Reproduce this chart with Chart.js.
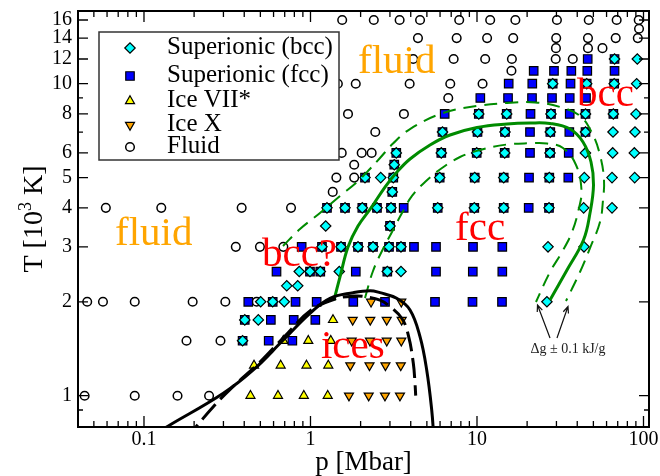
<!DOCTYPE html>
<html>
<head>
<meta charset="utf-8">
<title>Water phase diagram</title>
<script src="https://cdn.jsdelivr.net/npm/chart.js"></script>
<style>
  html, body { margin: 0; padding: 0; background: #fff; }
  #wrap { width: 660px; height: 476px; }
</style>
</head>
<body>
<div id="wrap"><canvas id="phaseChart" width="660" height="476"></canvas></div>
<script>
// points are [p in Mbar, T in 10^3 K]

// superionic bcc only
const bccOnly = [
  [0.486,1.75],[0.502,2],[0.696,2],[26.3,2],[0.720,2.25],[0.838,2.25],
  [0.856,2.5],[1.489,2.5],[3.495,2.5],[26.7,3],[43.9,3],[1.234,3.5],
  [43.7,4],[64.7,4],[2.64,5],[44.1,5],[64.7,5],[88.5,5],[44.8,6],[65.3,6],[88.1,6],
  [65.6,7],[88.9,7],[90.2,8],[91.0,10],[91.8,12]
];
// superionic fcc only
const fccOnly = [
  [0.561,1.5],[0.778,1.5],[0.578,1.75],[0.793,1.75],[1.069,1.75],
  [0.423,2],[0.813,2],[1.089,2],[1.807,2],[2.802,2],[5.595,2],[9.397,2],[14.13,2],
  [0.625,2.5],[1.871,2.5],[5.673,2.5],[9.436,2.5],[14.19,2.5],
  [0.885,3],[4.183,3],[5.673,3],[9.462,3],[14.19,3],
  [3.628,4],[20.44,4],[20.53,5],[35.35,5],[20.81,6],[35.55,6],[20.81,7],[35.85,7],
  [6.397,8],[20.96,8],[36.05,8],
  [10.47,9],[15.36,9],[21.40,9],[28.21,9],[36.05,9],[45.15,9],
  [15.50,10],[21.48,10],[36.45,10],
  [21.90,11],[29.00,11],[36.86,11],[45.97,11],[67.0,11],[46.22,12]
];
// both bcc and fcc superionic at the same state point
const bothPhases = [
  [0.391,1.5],[0.403,1.75],[0.593,2],[0.993,2.5],[1.145,2.5],[2.893,2.5],
  [1.172,3],[1.525,3],[1.929,3],[2.374,3],[2.962,3],[3.495,3],[3.003,3.5],
  [1.256,4],[1.612,4],[2.047,4],[2.508,4],[3.045,4],[5.808,4],[9.634,4],[14.47,4],[27.07,4],
  [3.099,4.5],[2.125,5],[3.142,5],[5.970,5],[9.687,5],[14.47,5],[27.18,5],[3.186,5.5],
  [3.275,6],[6.104,6],[9.959,6],[14.67,6],[27.45,6],
  [6.206,7],[10.07,7],[14.73,7],[27.56,7],[44.84,7],
  [10.25,8],[15.08,8],[27.82,8],[44.84,8],[65.9,8],
  [28.49,10],[45.59,10],[66.7,10],[67.0,12]
];
const iceVII = [
  [0.436,1],[0.638,1],[0.912,1],[1.269,1],
  [0.458,1.25],[0.662,1.25],[0.946,1.25],[1.279,1.25],
  [0.687,1.5],[0.970,1.5],[1.324,1.5],[1.365,1.75]
];
const iceX = [
  [1.703,1],[2.237,1],[2.802,1],[3.447,1],
  [1.734,1.25],[2.262,1.25],[2.82,1.25],[3.486,1.25],
  [1.768,1.5],[2.276,1.5],[2.87,1.5],[3.51,1.5],
  [1.793,1.75],[2.286,1.75],[2.87,1.75],[3.53,1.75],
  [2.31,2],[3.51,2]
];
const fluid = [
  [0.044,1],[0.088,1],[0.159,1],[0.246,1],[0.18,1.5],[0.288,1.5],
  [0.0456,2],[0.0567,2],[0.088,2],[0.196,2],[0.308,2],[0.475,2],
  [0.356,3],[0.497,3],[0.687,3],[0.059,4],[0.127,4],[0.386,4],[0.764,4],
  [1.36,4.5],[1.43,5],[1.83,5],[1.83,5.5],[1.54,6],[2.03,6],[2.33,6],[2.45,7],
  [1.68,8],[3.64,8],[6.72,9],[1.46,10],[1.87,10],[3.94,10],[6.91,10],[10.8,10],
  [16.1,11],[4.14,12],[7.24,12],[11.2,12],[16.2,12],[29.7,12],[37.6,12],
  [29.8,13],[46.4,13],[56.7,13],
  [4.42,14],[7.55,14],[11.5,14],[16.5,14],[29.9,14],[46.4,14],[68.1,14],[92.4,14],
  [94.0,15],
  [1.55,16],[2.40,16],[3.43,16],[4.55,16],[7.82,16],[12.0,16],[17.0,16],[30.2,16],
  [46.9,16],[69.0,16],[93.6,16]
];

// boundary curves
const iceMeltSolid = [
  [0.101,0.721],[0.140,0.800],[0.2995,1.018],[0.4533,1.209],[0.6865,1.508],[0.993,1.837],
  [1.310,2.052],[1.807,2.139],[2.278,2.170],[2.615,2.139],[3.294,2.052],[3.960,1.883],
  [4.547,1.546],[4.988,1.209],[5.346,0.900],[5.518,0.721]
];
const iceMeltDashed = [
  [0.1755,0.721],[0.2073,0.7996],[0.2608,0.922],[0.3423,1.069],[0.4974,1.282],[0.7029,1.554],
  [0.993,1.868],[1.403,2.041],[1.850,2.087],[2.184,2.072],[2.615,2.026],[2.921,1.953],
  [3.530,1.771],[3.868,1.565],[4.145,1.270],[4.243,1.096],[4.284,1.0]
];
const bccFccLine = [
  [1.384,2.026],[1.504,2.402],[1.680,2.996],[1.929,3.499],[2.309,3.997],[2.802,4.665],
  [3.308,5.212],[3.960,5.737],[5.222,6.362],[6.884,6.848],[10.0,7.237],[15.14,7.427],
  [20.81,7.482],[27.45,7.455],[36.21,7.157],[43.31,6.504],[48.39,5.611],[50.09,4.734],
  [47.72,3.851],[43.61,3.155],[34.72,2.529],[27.45,2.026]
];
const bccFccUpper = [
  [0.6838,3.018],[0.865,3.422],[1.140,3.851],[1.504,4.367],[1.902,4.841],[2.214,5.250],
  [2.615,5.780],[3.130,6.432],[3.960,7.157],[6.249,8.055],[10.0,8.483],[15.14,8.673],
  [22.30,8.706],[31.51,8.421],[41.55,7.879],[49.06,6.950],[54.79,5.909],[57.91,4.913],
  [57.12,4.240],[54.79,3.603],[47.72,2.974],[41.55,2.492],[34.24,2.012]
];
const bccFccLower = [
  [2.125,2.057],[2.374,2.510],[2.725,2.953],[3.087,3.347],[3.544,3.851],[4.071,4.367],
  [4.872,4.841],[6.163,5.368],[7.906,5.822],[10.43,6.131],[15.14,6.385],[20.81,6.441],
  [26.33,6.432],[32.85,6.222],[39.33,5.489],[42.42,4.564],[40.98,3.997],[37.21,3.347],
  [32.39,2.887],[27.45,2.492],[22.61,1.997]
];

// axis ticks
const xTickVals = [0.1, 1, 10, 100];
const xMinorVals = [0.05,0.06,0.07,0.08,0.09,0.2,0.3,0.4,0.5,0.6,0.7,0.8,0.9,
                    2,3,4,5,6,7,8,9,20,30,40,50,60,70,80,90];
const yTickVals = [1, 2, 3, 4, 5, 6, 8, 10, 12, 14, 16];
const yMinorVals = [0.9, 7, 9];

// text in the plot, anchored in data coordinates
const regionLabels = [
  { text: 'fluid', p: 0.067, T: 3.04, color: '#FFA500' },
  { text: 'fluid', p: 1.93, T: 10.85, color: '#FFA500' },
  { text: 'bcc', p: 39.9, T: 8.48, color: '#FF0000' },
  { text: 'bcc?', p: 0.511, T: 2.61, color: '#FF0000' },
  { text: 'fcc', p: 7.38, T: 3.16, color: '#FF0000' },
  { text: 'ices', p: 1.156, T: 1.318, color: '#FF0000' }
];
const arrows = [
  { from: [27.45, 1.531], to: [23.09, 1.953] },
  { from: [30.23, 1.531], to: [35.20, 1.931] }
];
const dgLabel = { text: 'Δg ± 0.1 kJ/g', p: 35.2, T: 1.37 };

const SERIF = "'Liberation Serif', 'Times New Roman', 'DejaVu Serif', serif";
const GREEN = 'rgb(0,139,0)';
const toXY = pts => pts.map(([p, T]) => ({ x: p, y: T }));

function curve(pts, color, width, dash) {
  return {
    type: 'line',
    data: toXY(pts),
    borderColor: color,
    borderWidth: width,
    borderDash: dash,
    pointRadius: 0,
    pointHitRadius: 0,
    fill: false,
    tension: 0.4,
    inLegend: false
  };
}

function markers(label, pts, style, radius, fill, rotation, bw) {
  return {
    label: label,
    data: toXY(pts),
    pointStyle: style,
    pointRadius: radius,
    pointRotation: rotation || 0,
    pointBackgroundColor: fill,
    pointBorderColor: '#000',
    pointBorderWidth: bw || 1.2,
    showLine: false,
    inLegend: true
  };
}

function drawArrow(ctx, x0, y0, x1, y1) {
  ctx.beginPath();
  ctx.moveTo(x0, y0);
  ctx.lineTo(x1, y1);
  const ang = Math.atan2(y1 - y0, x1 - x0), L = 7, w = 0.4;
  ctx.moveTo(x1 - L * Math.cos(ang - w), y1 - L * Math.sin(ang - w));
  ctx.lineTo(x1, y1);
  ctx.lineTo(x1 - L * Math.cos(ang + w), y1 - L * Math.sin(ang + w));
  ctx.stroke();
}

const overlay = {
  id: 'overlay',
  beforeDraw(chart) {
    const ctx = chart.ctx;
    ctx.save();
    ctx.fillStyle = '#fff';
    ctx.fillRect(0, 0, chart.width, chart.height);
    ctx.restore();
  },
  afterDatasetsDraw(chart) {
    const { ctx, chartArea: a, scales: { x, y } } = chart;
    ctx.save();

    // region names
    ctx.font = '41px ' + SERIF;
    ctx.textAlign = 'left';
    ctx.textBaseline = 'alphabetic';
    regionLabels.forEach(l => {
      ctx.fillStyle = l.color;
      ctx.fillText(l.text, x.getPixelForValue(l.p), y.getPixelForValue(l.T));
    });

    // arrows + note
    ctx.strokeStyle = '#111';
    ctx.lineWidth = 1.2;
    arrows.forEach(ar => {
      drawArrow(ctx,
        x.getPixelForValue(ar.from[0]), y.getPixelForValue(ar.from[1]),
        x.getPixelForValue(ar.to[0]), y.getPixelForValue(ar.to[1]));
    });
    ctx.fillStyle = '#222';
    ctx.font = '14px ' + SERIF;
    ctx.textAlign = 'center';
    ctx.fillText(dgLabel.text, x.getPixelForValue(dgLabel.p), y.getPixelForValue(dgLabel.T));

    // inward ticks on all four sides
    ctx.strokeStyle = '#000';
    ctx.lineWidth = 1.3;
    ctx.beginPath();
    const tx = (v, len) => {
      const px = x.getPixelForValue(v);
      ctx.moveTo(px, a.bottom); ctx.lineTo(px, a.bottom - len);
      ctx.moveTo(px, a.top); ctx.lineTo(px, a.top + len);
    };
    const ty = (v, len) => {
      const py = y.getPixelForValue(v);
      ctx.moveTo(a.left, py); ctx.lineTo(a.left + len, py);
      ctx.moveTo(a.right, py); ctx.lineTo(a.right - len, py);
    };
    xTickVals.forEach(v => tx(v, 11));
    xMinorVals.forEach(v => tx(v, 6));
    yTickVals.forEach(v => ty(v, 10));
    yMinorVals.forEach(v => ty(v, 5));
    ctx.stroke();

    ctx.lineWidth = 2;
    ctx.strokeRect(a.left, a.top, a.right - a.left, a.bottom - a.top);
    ctx.restore();
  },
  afterDraw(chart) {
    const { ctx, chartArea: a } = chart;
    ctx.save();

    // legend box
    const box = { left: 99, top: 32, right: 339, bottom: 160 };
    const rowsY = [48, 76, 101, 125, 147];
    ctx.fillStyle = '#fff';
    ctx.fillRect(box.left, box.top, box.right - box.left, box.bottom - box.top);
    ctx.strokeStyle = '#333';
    ctx.lineWidth = 1.5;
    ctx.strokeRect(box.left, box.top, box.right - box.left, box.bottom - box.top);

    const entries = chart.data.datasets.filter(d => d.inLegend);
    ctx.font = '25px ' + SERIF;
    ctx.textAlign = 'left';
    ctx.textBaseline = 'alphabetic';
    entries.forEach((d, i) => {
      const yy = rowsY[i];
      ctx.fillStyle = d.pointBackgroundColor;
      ctx.strokeStyle = d.pointBorderColor;
      ctx.lineWidth = d.pointBorderWidth;
      Chart.helpers.drawPoint(ctx, {
        pointStyle: d.pointStyle, radius: d.pointRadius,
        rotation: d.pointRotation, borderWidth: d.pointBorderWidth
      }, 130, yy);
      ctx.fillStyle = '#000';
      ctx.fillText(d.label, 167, yy + 6);
    });

    // axis titles
    ctx.fillStyle = '#000';
    ctx.font = '27px ' + SERIF;
    ctx.textAlign = 'center';
    ctx.fillText('p [Mbar]', (a.left + a.right) / 2, 470);

    ctx.translate(42, (a.top + a.bottom) / 2);
    ctx.rotate(-Math.PI / 2);
    ctx.textAlign = 'left';
    const big = '28px ' + SERIF, small = '18px ' + SERIF;
    ctx.font = big;
    const w1 = ctx.measureText('T [10').width;
    const w3 = ctx.measureText(' K]').width;
    ctx.font = small;
    const w2 = ctx.measureText('3').width;
    let cx = -(w1 + w2 + w3) / 2;
    ctx.font = big;
    ctx.fillText('T [10', cx, 0);
    cx += w1;
    ctx.font = small;
    ctx.fillText('3', cx, -11);
    cx += w2;
    ctx.font = big;
    ctx.fillText(' K]', cx, 0);
    ctx.restore();
  }
};

new Chart(document.getElementById('phaseChart'), {
  type: 'scatter',
  data: {
    datasets: [
      curve(iceMeltSolid, '#000', 3, []),
      curve(iceMeltDashed, '#000', 3, [20, 7]),
      curve(bccFccLine, GREEN, 3, []),
      curve(bccFccUpper, GREEN, 2, [13, 8]),
      curve(bccFccLower, GREEN, 2, [13, 8]),
      markers('Superionic (bcc)', bccOnly.concat(bothPhases), 'rectRot', 5.2, '#00FFFF'),
      markers('Superionic (fcc)', fccOnly.concat(bothPhases), 'rect', 6, '#0000FF'),
      markers('Ice VII*', iceVII, 'triangle', 5.2, '#FFFF00'),
      markers('Ice X', iceX, 'triangle', 5.2, '#FFA500', 180),
      markers('Fluid', fluid, 'circle', 4.3, '#FFFFFF', 0, 1.5)
    ]
  },
  options: {
    responsive: false,
    animation: false,
    devicePixelRatio: 1,
    events: [],
    layout: { padding: { top: 11, right: 11, left: 0, bottom: 0 } },
    plugins: { legend: { display: false }, tooltip: { enabled: false } },
    scales: {
      x: {
        type: 'logarithmic',
        position: 'bottom',
        min: 0.04015,
        max: 107.9,
        grid: { display: false, drawTicks: false },
        border: { display: false },
        ticks: {
          autoSkip: false, maxRotation: 0, padding: 1, color: '#000',
          font: { family: SERIF, size: 20 },
          callback: v => String(v)
        },
        afterBuildTicks: s => { s.ticks = xTickVals.map(v => ({ value: v })); },
        afterFit: s => { s.height = 49; s.paddingLeft = 0; s.paddingRight = 0; }
      },
      y: {
        type: 'logarithmic',
        position: 'left',
        min: 0.7938,
        max: 17.1,
        grid: { display: false, drawTicks: false },
        border: { display: false },
        ticks: {
          autoSkip: false, padding: 6, color: '#000',
          font: { family: SERIF, size: 20 },
          callback: v => String(v)
        },
        afterBuildTicks: s => { s.ticks = yTickVals.map(v => ({ value: v })); },
        afterFit: s => { s.width = 78; s.paddingTop = 0; s.paddingBottom = 0; }
      }
    }
  },
  plugins: [overlay]
});
</script>
</body>
</html>
